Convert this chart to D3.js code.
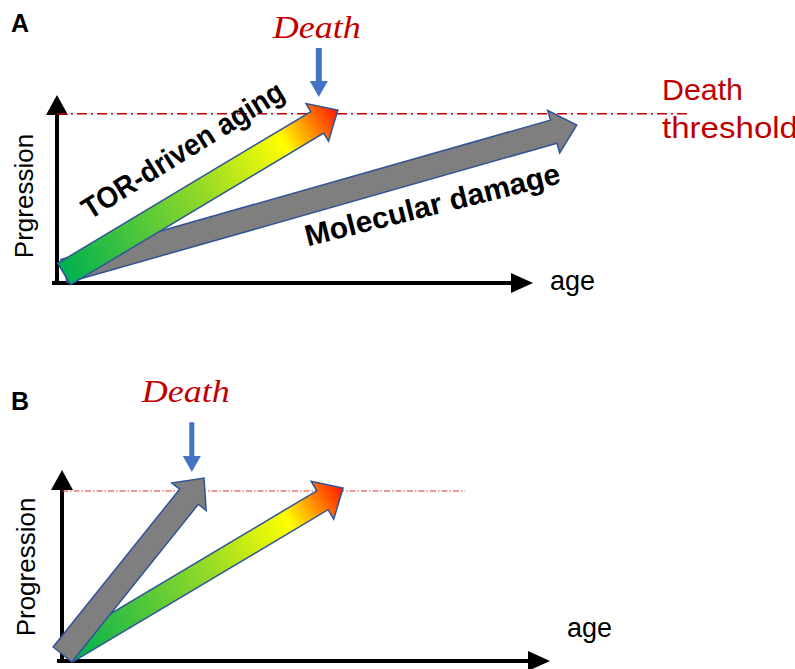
<!DOCTYPE html>
<html>
<head>
<meta charset="utf-8">
<script src="https://cdn.jsdelivr.net/npm/d3@7"></script>
<style>
  body { margin: 0; background: #fff; }
  svg { display: block; font-family: "Liberation Sans", Arial, sans-serif; }
</style>
</head>
<body>
<div id="chart"></div>
<script>
// --- values (age / progression units, 0..100 = axis length) ---
const panelLabels = ["A", "B"];
const yTitles = ["Prgression", "Progression"];
const xTitle = "age";
const deathLabel = "Death";
const thresholdLabel = ["Death", "threshold"];

// death threshold level and how far right the dashed line runs
const thresholdLevel = [90, 89];
const thresholdEnd = [133, 82.6];

// where the blue "Death" marker points (age) and its top/tip (progression)
const deathAge = [55, 26.6];
const deathMarkerTop = [125, 125];
const deathMarkerTip = [99, 99];

// arrows: kind, tail [age, prog], tip [age, prog]; drawn in this order
const arrowKindsA = ["damage", "tor"];
const arrowTailsA = [[1.5, 6.4], [1.5, 4.8]];
const arrowTipsA = [[109.2, 84], [59, 92]];
const arrowTextA = ["Molecular damage", "TOR-driven aging"];

const arrowKindsB = ["tor", "damage"];
const arrowTailsB = [[1.2, 4.7], [0.1, 3.4]];
const arrowTipsB = [[57.6, 90.6], [29.1, 95.8]];

const width = 795, height = 669;
const red = "#c00000", blue = "#4472c4", outline = "#2f5597";

const svg = d3.select("#chart").append("svg")
    .attr("width", width)
    .attr("height", height);

const defs = svg.append("defs");

// panel geometry (pixels)
const panels = [
    { x: d3.scaleLinear().domain([0, 100]).range([57, 533]),
      y: d3.scaleLinear().domain([0, 100]).range([283, 95]),
      kinds: arrowKindsA, tails: arrowTailsA, tips: arrowTipsA,
      shaft: [24, 25], dash: "10,4,2,4", dashW: 1.4, dashColor: red,
      letterY: 32, deathY: 38, deathShift: -2 },
    { x: d3.scaleLinear().domain([0, 100]).range([62, 550]),
      y: d3.scaleLinear().domain([0, 100]).range([661, 470]),
      kinds: arrowKindsB, tails: arrowTailsB, tips: arrowTipsB,
      shaft: [22, 24], dash: "6,2,1.5,2", dashW: 1, dashColor: "#e03535",
      letterY: 410, deathY: 402, deathShift: -6 }
];

// polygon for a block arrow from tail to tip
function arrowPoints(t, p, w, hw, hl) {
    const dx = p[0] - t[0], dy = p[1] - t[1];
    const L = Math.hypot(dx, dy);
    const ux = dx / L, uy = dy / L;
    const nx = -uy, ny = ux;
    const b = [p[0] - ux * hl, p[1] - uy * hl];
    const off = (q, s) => [q[0] + nx * s, q[1] + ny * s];
    return [off(t, w / 2), off(b, w / 2), off(b, hw / 2), p,
            off(b, -hw / 2), off(b, -w / 2), off(t, -w / 2)];
}

panels.forEach((P, i) => {
    const g = svg.append("g");
    const x = P.x, y = P.y;

    // panel letter
    g.append("text")
        .attr("x", 11).attr("y", P.letterY)
        .attr("font-size", 25).attr("font-weight", "bold")
        .text(panelLabels[i]);

    // axes
    g.append("line")
        .attr("x1", x(0)).attr("x2", x(0))
        .attr("y1", y(0) + 1).attr("y2", y(100) + 15)
        .attr("stroke", "#000").attr("stroke-width", 4);
    g.append("path")
        .attr("d", d3.line()([[x(0) - 11, y(100) + 20], [x(0), y(100)], [x(0) + 11, y(100) + 20]]) + "Z")
        .attr("fill", "#000");
    g.append("line")
        .attr("x1", x(0) - 5).attr("x2", x(100) - 18)
        .attr("y1", y(0)).attr("y2", y(0))
        .attr("stroke", "#000").attr("stroke-width", 4);
    g.append("path")
        .attr("d", d3.line()([[x(100) - 22, y(0) - 10], [x(100), y(0)], [x(100) - 22, y(0) + 10]]) + "Z")
        .attr("fill", "#000");

    // axis titles
    g.append("text")
        .attr("x", x(100) + 17).attr("y", y(0) + (i === 0 ? 7 : -24))
        .attr("font-size", 27)
        .text(xTitle);
    g.append("text")
        .attr("transform", `translate(${i === 0 ? 33 : 35},${i === 0 ? 196 : 567}) rotate(-90)`)
        .attr("text-anchor", "middle")
        .attr("font-size", 26)
        .text(yTitles[i]);

    // death threshold
    g.append("line")
        .attr("x1", x(0)).attr("x2", x(thresholdEnd[i]))
        .attr("y1", y(thresholdLevel[i])).attr("y2", y(thresholdLevel[i]))
        .attr("stroke", P.dashColor).attr("stroke-width", P.dashW)
        .attr("stroke-dasharray", P.dash);

    // arrows
    P.kinds.forEach((kind, k) => {
        const t = [x(P.tails[k][0]), y(P.tails[k][1])];
        const p = [x(P.tips[k][0]), y(P.tips[k][1])];
        let fill = "#7f7f7f";
        if (kind === "tor") {
            const id = "grad" + i;
            const lg = defs.append("linearGradient")
                .attr("id", id).attr("gradientUnits", "userSpaceOnUse")
                .attr("x1", t[0]).attr("y1", t[1]).attr("x2", p[0]).attr("y2", p[1]);
            [[0, "#00b050"], [0.5, "#92d928"], [0.8, "#ffff00"], [1, "#ff1500"]]
                .forEach(s => lg.append("stop").attr("offset", s[0]).attr("stop-color", s[1]));
            fill = `url(#${id})`;
        }
        g.append("path")
            .attr("d", d3.line()(arrowPoints(t, p, P.shaft[k], 44, 24)) + "Z")
            .attr("fill", fill)
            .attr("stroke", outline).attr("stroke-width", 1.5)
            .attr("stroke-linejoin", "miter");
    });

    // "Death" marker
    const dx = x(deathAge[i]);
    g.append("text")
        .attr("x", dx + P.deathShift).attr("y", P.deathY)
        .attr("text-anchor", "middle")
        .attr("font-family", "'Liberation Serif', serif")
        .attr("font-style", "italic")
        .attr("font-size", 31)
        .attr("fill", red)
        .attr("textLength", 88).attr("lengthAdjust", "spacingAndGlyphs")
        .text(deathLabel);
    const top = y(deathMarkerTop[i]), tip = y(deathMarkerTip[i]);
    g.append("line")
        .attr("x1", dx).attr("x2", dx)
        .attr("y1", top).attr("y2", tip - 12)
        .attr("stroke", blue).attr("stroke-width", i === 0 ? 6 : 5);
    g.append("path")
        .attr("d", d3.line()([[dx - 9, tip - 16], [dx + 9, tip - 16], [dx, tip]]) + "Z")
        .attr("fill", blue);
});

// arrow labels in panel A
svg.append("text")
    .attr("transform", "translate(184,152) rotate(-32)")
    .attr("text-anchor", "middle").attr("dominant-baseline", "middle")
    .attr("font-size", 30).attr("font-weight", "bold")
    .attr("textLength", 232).attr("lengthAdjust", "spacingAndGlyphs")
    .text(arrowTextA[1]);
svg.append("text")
    .attr("transform", "translate(433,207) rotate(-14)")
    .attr("text-anchor", "middle").attr("dominant-baseline", "middle")
    .attr("font-size", 30).attr("font-weight", "bold")
    .attr("textLength", 262).attr("lengthAdjust", "spacingAndGlyphs")
    .text(arrowTextA[0]);

// threshold label
svg.append("text")
    .attr("y", 100)
    .attr("font-size", 30).attr("fill", red)
    .selectAll("tspan").data(thresholdLabel).join("tspan")
    .attr("x", 662).attr("dy", (d, j) => j === 0 ? 0 : 38)
    .attr("textLength", (d, j) => j === 0 ? 81 : 136)
    .attr("lengthAdjust", "spacingAndGlyphs")
    .text(d => d);
</script>
</body>
</html>
